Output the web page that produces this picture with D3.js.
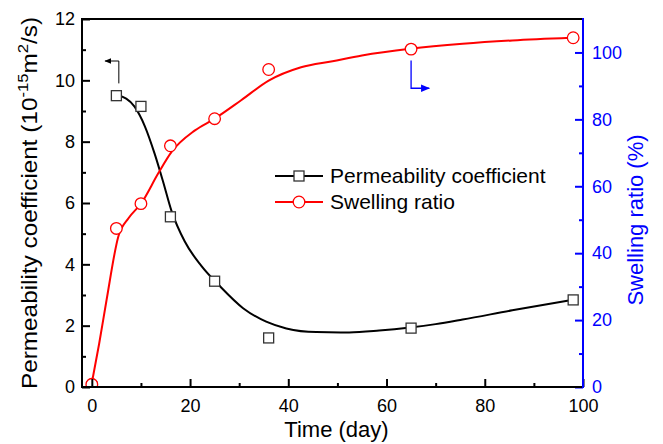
<!DOCTYPE html>
<html>
<head>
<meta charset="utf-8">
<script src="https://cdn.jsdelivr.net/npm/d3@7"></script>
<style>
  body { margin: 0; background: #fff; }
  svg { font-family: "Liberation Sans", Arial, sans-serif; }
</style>
</head>
<body>
<svg id="chart" width="663" height="444"></svg>
<script>
// measured points
const days = [0, 5, 10, 16, 25, 36, 65, 98];
const permeability = [0, 9.5, 9.15, 5.55, 3.45, 1.6, 1.92, 2.84];
const swelling = [0.8, 47.4, 54.8, 72.1, 80.2, 94.9, 101.0, 104.4];

// fitted curves
const permFitDays = [5.3, 8.7, 10.8, 12.8, 14.5, 16.2, 18.9, 22.3, 26, 30.8, 35.5, 39.6, 45.7, 52.4, 58.5, 64.8, 70, 75.5, 85.6, 97.7];
const permFitVals = [9.52, 9.14, 8.5, 7.6, 6.7, 5.75, 4.75, 3.95, 3.3, 2.57, 2.13, 1.91, 1.79, 1.78, 1.84, 1.94, 2.05, 2.2, 2.5, 2.84];
const swellFitDays = [0, 1.5, 3, 5.4, 7.5, 10.1, 13.5, 16.2, 21, 25, 30.4, 36, 42.6, 49, 55, 64.8, 75.5, 85.6, 97.5];
const swellFitVals = [1.2, 13, 26, 45, 50.5, 55, 63.8, 70.2, 76.7, 80.2, 85.7, 91.6, 95.6, 97.4, 99.1, 101.1, 102.6, 103.6, 104.4];

// ticks
const xMajor = [0, 20, 40, 60, 80, 100];
const xMinor = [10, 30, 50, 70, 90];
const yLeftMajor = [0, 2, 4, 6, 8, 10, 12];
const yLeftMinor = [1, 3, 5, 7, 9, 11];
const yRightMajor = [0, 20, 40, 60, 80, 100];
const yRightMinor = [10, 30, 50, 70, 90];

const legendNames = ["Permeability coefficient", "Swelling ratio"];
const legendColours = ["#000", "#ff0000"];

// axis-pointer arrows: [day, value]
const leftArrow = [[5.5, 9.9], [5.5, 10.63], [2.7, 10.63]];
const rightArrow = [[65, 97.6], [65, 89.3], [68.7, 89.3]];

const width = 663, height = 444;
const margin = {top: 19, right: 80, bottom: 57, left: 82};

const svg = d3.select("#chart");

const x = d3.scaleLinear([-2, 100], [margin.left, width - margin.right]);
const yL = d3.scaleLinear([0, 12], [height - margin.bottom, margin.top]);
const yR = d3.scaleLinear([0, 110], [height - margin.bottom, margin.top]);

const blue = "#0000ff";

svg.append("defs").append("clipPath").attr("id", "plot")
    .append("rect")
    .attr("x", x.range()[0]).attr("y", margin.top)
    .attr("width", x.range()[1] - x.range()[0])
    .attr("height", yL.range()[0] - margin.top);

// fitted curves
const permLine = d3.line()
    .curve(d3.curveMonotoneX)
    .x(d => x(d[0]))
    .y(d => yL(d[1]));
const swellLine = d3.line()
    .curve(d3.curveMonotoneX)
    .x(d => x(d[0]))
    .y(d => yR(d[1]));

const plot = svg.append("g").attr("clip-path", "url(#plot)");

plot.append("path")
    .attr("d", permLine(d3.zip(permFitDays, permFitVals)))
    .attr("fill", "none")
    .attr("stroke", "#000")
    .attr("stroke-width", 2);

plot.append("path")
    .attr("d", swellLine(d3.zip(swellFitDays, swellFitVals)))
    .attr("fill", "none")
    .attr("stroke", "#ff0000")
    .attr("stroke-width", 2);

plot.selectAll("rect.sq")
    .data(d3.zip(days, permeability))
    .join("rect")
    .attr("class", "sq")
    .attr("x", d => x(d[0]) - 5)
    .attr("y", d => yL(d[1]) - 5)
    .attr("width", 10)
    .attr("height", 10)
    .attr("fill", "#fff")
    .attr("stroke", "#333")
    .attr("stroke-width", 1.3);

plot.selectAll("circle.ci")
    .data(d3.zip(days, swelling))
    .join("circle")
    .attr("class", "ci")
    .attr("cx", d => x(d[0]))
    .attr("cy", d => yR(d[1]))
    .attr("r", 5.8)
    .attr("fill", "#fff")
    .attr("stroke", "#ff0000")
    .attr("stroke-width", 1.3);

// arrows
const marker = (id, col) => svg.select("defs").append("marker")
    .attr("id", id)
    .attr("viewBox", "0 0 10 10")
    .attr("refX", 9).attr("refY", 5)
    .attr("markerWidth", 7).attr("markerHeight", 7)
    .attr("orient", "auto")
    .append("path").attr("d", "M0,1L10,5L0,9Z").attr("fill", col);
marker("arrL", "#000");
marker("arrR", blue);

svg.append("path")
    .attr("d", d3.line().x(d => x(d[0])).y(d => yL(d[1]))(leftArrow))
    .attr("fill", "none").attr("stroke", "#000").attr("stroke-width", 1)
    .attr("marker-end", "url(#arrL)");
svg.append("path")
    .attr("d", d3.line().x(d => x(d[0])).y(d => yR(d[1]))(rightArrow))
    .attr("fill", "none").attr("stroke", blue).attr("stroke-width", 1.3)
    .attr("marker-end", "url(#arrR)");

// axes
function styleAxis(g, col, size) {
    g.select(".domain").remove();
    g.selectAll(".tick line").attr("stroke", col).attr("stroke-width", 2);
    g.selectAll(".tick text").attr("fill", col).attr("font-size", size);
}

const bottom = height - margin.bottom;
const right = x.range()[1];

svg.append("g")
    .attr("transform", `translate(0,${bottom})`)
    .call(d3.axisBottom(x).tickValues(xMajor).tickSize(-8).tickPadding(12))
    .call(g => styleAxis(g, "#000", 18));
svg.append("g")
    .attr("transform", `translate(0,${bottom})`)
    .call(d3.axisBottom(x).tickValues(xMinor).tickSize(-4).tickFormat(""))
    .call(g => styleAxis(g, "#000", 18));

svg.append("g")
    .attr("transform", `translate(${margin.left},0)`)
    .call(d3.axisLeft(yL).tickValues(yLeftMajor).tickSize(-8).tickPadding(7))
    .call(g => styleAxis(g, "#000", 18));
svg.append("g")
    .attr("transform", `translate(${margin.left},0)`)
    .call(d3.axisLeft(yL).tickValues(yLeftMinor).tickSize(-4).tickFormat(""))
    .call(g => styleAxis(g, "#000", 18));

svg.append("g")
    .attr("transform", `translate(${right},0)`)
    .call(d3.axisRight(yR).tickValues(yRightMajor).tickSize(-8).tickPadding(9))
    .call(g => styleAxis(g, blue, 18));
svg.append("g")
    .attr("transform", `translate(${right},0)`)
    .call(d3.axisRight(yR).tickValues(yRightMinor).tickSize(-4).tickFormat(""))
    .call(g => styleAxis(g, blue, 18));

// frame
const frame = svg.append("g").attr("fill", "none").attr("stroke-width", 2).attr("stroke-linecap", "square");
frame.append("path").attr("stroke", "#000")
    .attr("d", `M${right},${margin.top}H${margin.left}V${bottom}H${right}`);
frame.append("path").attr("stroke", blue)
    .attr("d", `M${right},${margin.top}V${bottom}`);

// axis titles
svg.append("text")
    .attr("x", (margin.left + right) / 2 + 4)
    .attr("y", 437)
    .attr("text-anchor", "middle")
    .attr("font-size", 22)
    .text("Time (day)");

const yTitle = svg.append("text")
    .attr("transform", `translate(37,${(margin.top + bottom) / 2}) rotate(-90)`)
    .attr("text-anchor", "middle")
    .attr("font-size", 22)
    .attr("textLength", 372)
    .attr("lengthAdjust", "spacingAndGlyphs");
yTitle.append("tspan").text("Permeability coefficient (10");
yTitle.append("tspan").attr("font-size", 15).attr("dy", -9).text("-15");
yTitle.append("tspan").attr("dy", 9).text("m");
yTitle.append("tspan").attr("font-size", 15).attr("dy", -9).text("2");
yTitle.append("tspan").attr("dy", 9).text("/s)");

svg.append("text")
    .attr("transform", `translate(643,${(margin.top + bottom) / 2 + 17}) rotate(-90)`)
    .attr("text-anchor", "middle")
    .attr("font-size", 22)
    .attr("fill", blue)
    .text("Swelling ratio (%)");

// legend
const legend = svg.append("g")
    .selectAll("g")
    .data(legendNames)
    .join("g")
    .attr("transform", (d, i) => `translate(275,${176 + i * 26})`);

legend.append("line")
    .attr("x1", 0).attr("x2", 48)
    .attr("stroke", (d, i) => legendColours[i])
    .attr("stroke-width", 2);
legend.filter((d, i) => i === 0).append("rect")
    .attr("x", 19).attr("y", -5).attr("width", 10).attr("height", 10)
    .attr("fill", "#fff").attr("stroke", "#333").attr("stroke-width", 1.3);
legend.filter((d, i) => i === 1).append("circle")
    .attr("cx", 24).attr("r", 5.8)
    .attr("fill", "#fff").attr("stroke", "#ff0000").attr("stroke-width", 1.3);
legend.append("text")
    .attr("x", 55)
    .attr("dy", "0.35em")
    .attr("font-size", 21)
    .text(d => d);
</script>
</body>
</html>
